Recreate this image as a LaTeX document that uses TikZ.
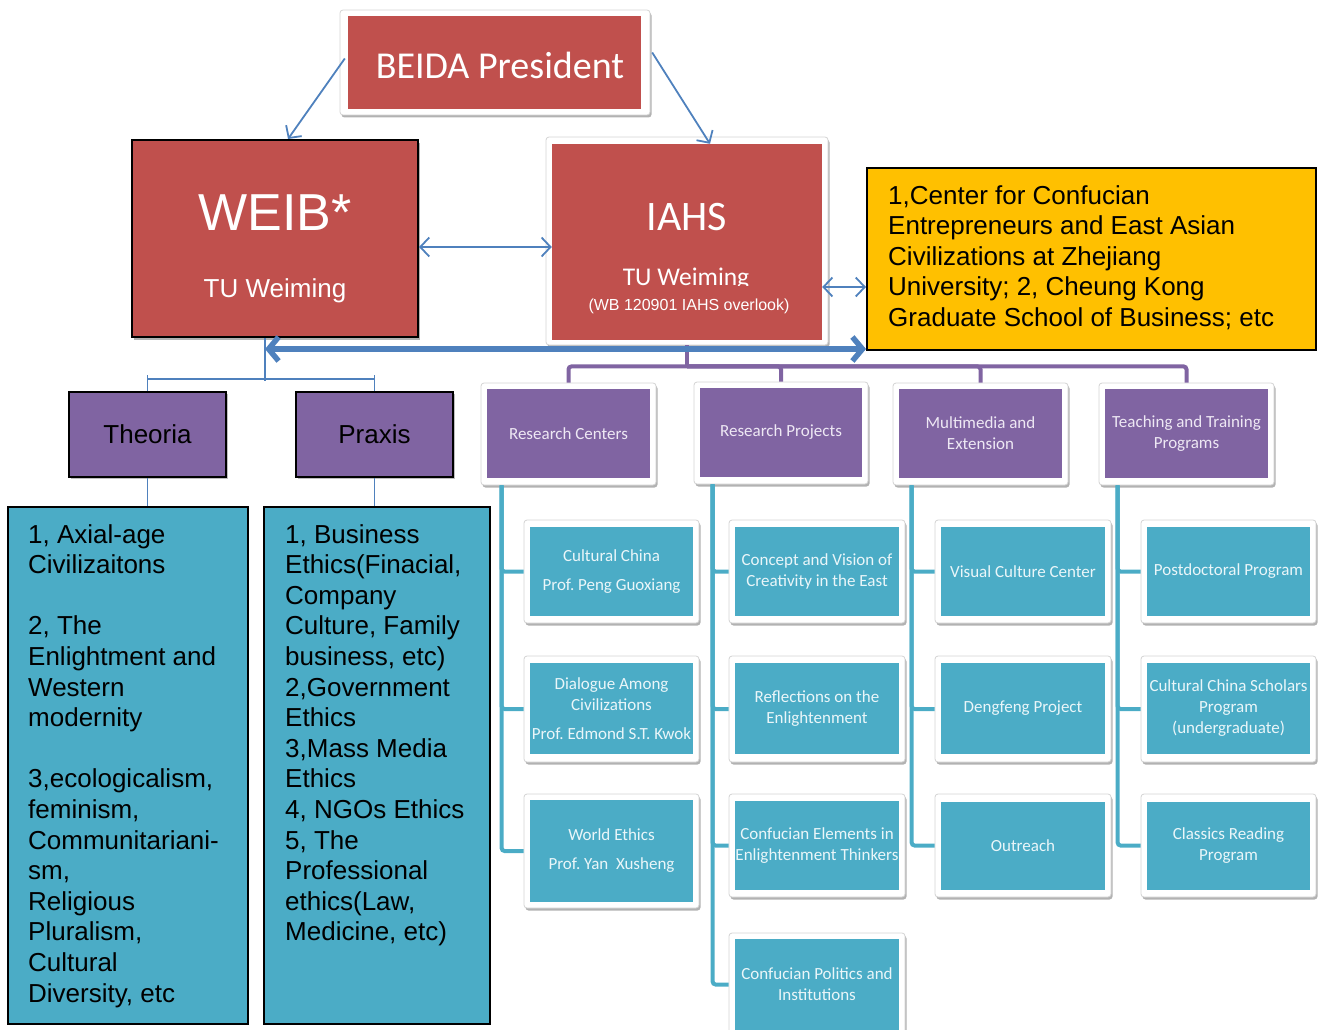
\documentclass[tikz,border=0pt]{standalone}
\usepackage{fontspec}
\setmainfont{Liberation Sans}
\newfontfamily\calib{Carlito}
\usetikzlibrary{arrows.meta,shadows,calc}
\definecolor{cred}{HTML}{C0504D}
\definecolor{cpurple}{HTML}{8064A2}
\definecolor{cteal}{HTML}{4BACC6}
\definecolor{cblue}{HTML}{4F81BD}
\definecolor{cyellow}{HTML}{FFC000}
\definecolor{cframe}{HTML}{D4D4D4}
\definecolor{ctealtxt}{HTML}{EAF6F9}
\definecolor{cpurptxt}{HTML}{EEE8F4}
\newcommand\placebox[7]{\node[#2, minimum width={#4-#3}, minimum height={#6-#5}] (#1) at ({(#3+#4)/2},{(#5+#6)/2}) {#7};}
\frenchspacing
\begin{document}
\begin{tikzpicture}[x=1pt,y=-1pt,
  wframe/.style={draw=cframe, fill=white, rounded corners=3pt, line width=0.8pt, inner sep=0pt,
     drop shadow={shadow xshift=1.5pt, shadow yshift=-2.5pt, opacity=0.3, fill=black}},
  redin/.style={fill=cred, draw=none, inner sep=0pt},
  purpin/.style={fill=cpurple, draw=none, inner sep=0pt, text=cpurptxt, align=center,
     font=\calib\fontsize{17}{21}\selectfont},
  tealin/.style={fill=cteal, draw=none, inner sep=0pt, text=ctealtxt, align=center,
     font=\calib\fontsize{17}{21}\selectfont},
  blackbox/.style={draw=black, line width=2pt, inner sep=0pt},
  bigtext/.style={font=\fontsize{26}{30.6}\selectfont, align=left, inner sep=0pt, anchor=north west},
  thinline/.style={draw=cblue, line width=1.8pt},
  biarrow/.style={thinline, {Straight Barb[length=9pt,width=19pt]}-{Straight Barb[length=9pt,width=19pt]}},
  onearrow/.style={thinline, -{Straight Barb[length=9pt,width=19pt]}},
  thickarrow/.style={draw=cblue, line width=5.5pt, {Straight Barb[length=10pt,width=24pt]}-{Straight Barb[length=10pt,width=24pt]}},
  purpline/.style={draw=cpurple, line width=4pt, rounded corners=3pt},
  tealline/.style={draw=cteal, line width=4pt, rounded corners=3pt}
]
\useasboundingbox (0,0) rectangle (1322,1030);

% ---------- top level ----------
\placebox{beidaf}{wframe}{340}{650}{10}{115}{}
\placebox{beida}{redin}{348}{641}{16}{109}{}
\node[anchor=base, inner sep=0pt, text=white, font=\calib\fontsize{38}{38}\selectfont] (beidat) at (500,79) {BEIDA President};

\placebox{weib}{redin, blackbox, drop shadow={shadow xshift=2pt, shadow yshift=-3pt, opacity=0.3, fill=black}}{132}{418}{140}{337}{}
\node[anchor=base, inner sep=0pt, text=white, font=\fontsize{52}{52}\selectfont] (weibt1) at (275,230) {WEIB*};
\node[anchor=base, inner sep=0pt, text=white, font=\fontsize{26}{26}\selectfont] (weibt2) at (275,297) {TU Weiming};

\placebox{iahsf}{wframe}{546}{828}{137}{345}{}
\placebox{iahs}{redin}{552}{822}{144}{340}{}
\node[anchor=base, inner sep=0pt, text=white, font=\calib\fontsize{42}{42}\selectfont] (iahst1) at (687,230) {IAHS};
\begin{scope}
  \clip (552,250) rectangle (822,285.5);
  \node[anchor=base, inner sep=0pt, text=white, font=\calib\fontsize{25.5}{25.5}\selectfont] (iahst2) at (686,285) {TU Weiming};
\end{scope}
\node[anchor=base, inner sep=0pt, text=white, font=\fontsize{16}{16}\selectfont] (iahst3) at (689,310) {(WB 120901 IAHS overlook)};

\placebox{yellow}{fill=cyellow, blackbox}{867}{1316}{168}{350}{}
\node[bigtext] (yellowt) at (888,185) {1,Center for Confucian\\Entrepreneurs and East Asian\\Civilizations at Zhejiang\\University; 2, Cheung Kong\\Graduate School of Business; etc};

% ---------- left branch ----------
\placebox{theoria}{fill=cpurple, blackbox, font=\fontsize{26}{26}\selectfont, drop shadow={shadow xshift=1.5pt, shadow yshift=-2pt, opacity=0.25, fill=black}}{69}{226}{392}{477}{Theoria}
\placebox{praxis}{fill=cpurple, blackbox, font=\fontsize{26}{26}\selectfont, text depth=0pt, drop shadow={shadow xshift=1.5pt, shadow yshift=-2pt, opacity=0.25, fill=black}}{296}{453}{392}{477}{Praxis}

\placebox{theobox}{fill=cteal, blackbox}{8}{248}{507}{1024}{}
\placebox{praxbox}{fill=cteal, blackbox}{264}{490}{507}{1024}{}
\node[bigtext] (theotext) at (28,524) {1, Axial-age\\Civilizaitons\\[30.6pt]2, The\\Enlightment and\\Western\\modernity\\[30.6pt]3,ecologicalism,\\feminism,\\Communitariani-\\sm,\\Religious\\Pluralism,\\Cultural\\Diversity, etc};
\node[bigtext] (praxtext) at (285,524) {1, Business\\Ethics(Finacial,\\Company\\Culture, Family\\business, etc)\\2,Government\\Ethics\\3,Mass Media\\Ethics\\4, NGOs Ethics\\5, The\\Professional\\ethics(Law,\\Medicine, etc)};

% ---------- level 2 ----------
\placebox{rcf}{wframe}{481}{656}{383}{485}{}
\placebox{rc}{purpin}{487}{650}{389}{478}{Research Centers}
\placebox{rpf}{wframe}{694}{868}{382}{484}{}
\placebox{rp}{purpin}{700}{862}{388}{477}{Research Projects}
\placebox{mmf}{wframe}{893}{1068}{383}{485}{}
\placebox{mm}{purpin}{899}{1062}{389}{478}{Multimedia and\\Extension}
\placebox{ttf}{wframe}{1099}{1274}{383}{485}{}
\placebox{tt}{purpin}{1105}{1268}{389}{478}{Teaching and Training\\Programs}

% ---------- level 3 ----------
\placebox{c11f}{wframe}{524}{699}{520}{623}{}
\placebox{c11}{tealin}{530}{693}{527}{616}{Cultural China\\[8pt]Prof. Peng Guoxiang}
\placebox{c12f}{wframe}{524}{699}{656}{762}{}
\placebox{c12}{tealin}{530}{693}{663}{754}{Dialogue Among\\Civilizations\\[8pt]Prof. Edmond S.T. Kwok}
\placebox{c13f}{wframe}{524}{699}{794}{908}{}
\placebox{c13}{tealin}{530}{693}{800}{902}{World Ethics\\[8pt]Prof. Yan\ \ Xusheng}

\placebox{c21f}{wframe}{729}{905}{520}{623}{}
\placebox{c21}{tealin}{735}{899}{527}{616}{Concept and Vision of\\Creativity in the East}
\placebox{c22f}{wframe}{729}{905}{656}{762}{}
\placebox{c22}{tealin}{735}{899}{663}{754}{Reflections on the\\Enlightenment}
\placebox{c23f}{wframe}{729}{905}{794}{897}{}
\placebox{c23}{tealin}{735}{899}{801}{890}{Confucian Elements in\\Enlightenment Thinkers}
\placebox{c24f}{wframe}{729}{905}{933}{1036}{}
\placebox{c24}{tealin}{735}{899}{939}{1030}{Confucian Politics and\\Institutions}

\placebox{c31f}{wframe}{935}{1111}{520}{623}{}
\placebox{c31}{tealin}{941}{1105}{527}{616}{Visual Culture Center}
\placebox{c32f}{wframe}{935}{1111}{656}{762}{}
\placebox{c32}{tealin}{941}{1105}{663}{754}{Dengfeng Project}
\placebox{c33f}{wframe}{935}{1111}{794}{897}{}
\placebox{c33}{tealin}{941}{1105}{802}{890}{Outreach}

\placebox{c41f}{wframe}{1141}{1316}{520}{623}{}
\placebox{c41}{tealin}{1147}{1310}{527}{616}{Postdoctoral Program}
\placebox{c42f}{wframe}{1141}{1316}{656}{762}{}
\placebox{c42}{tealin}{1147}{1310}{663}{754}{Cultural China Scholars\\Program\\(undergraduate)}
\placebox{c43f}{wframe}{1141}{1316}{794}{897}{}
\placebox{c43}{tealin}{1147}{1310}{802}{890}{Classics Reading\\Program}

% ---------- tree lines ----------
\draw[purpline] (iahsf.south) -- ++(0,21) coordinate (pj);
\draw[purpline] (pj) -| (rcf.north);
\draw[purpline] (pj) -| (rpf.north);
\draw[purpline] (pj) -| (mmf.north);
\draw[purpline] (pj) -| (ttf.north);

\foreach \f/\d/\list in {rcf/21/{c11f,c12f,c13f}, rpf/19/{c21f,c22f,c23f,c24f}, mmf/19/{c31f,c32f,c33f}, ttf/19/{c41f,c42f,c43f}}{
  \foreach \c in \list {
    \draw[tealline] ([xshift=\d]\f.south west) |- (\c.west);
  }
}

% left bracket
\draw[thinline] ([xshift=-10]weib.south) -- ++(0,43);
\draw[thinline] (theoria.north) -- ++(0,-16);
\draw[thinline] (praxis.north) -- ++(0,-16);
\draw[thinline] (theoria.north) ++(0,-12) -| (praxis.north);
\draw[thinline] (theoria.south) -- (theoria.south |- theobox.north);
\draw[thinline] (praxis.south) -- (praxis.south |- praxbox.north);

% ---------- arrows ----------
\draw[onearrow] ([xshift=-3,yshift=4]beida.west) -- ([xshift=13]weib.north);
\draw[onearrow] ([xshift=11,yshift=10]beida.east) -- ([xshift=23]iahs.north);
\draw[biarrow] ([yshift=-8.5]weib.east) -- ([yshift=-8.5]weib.east -| iahs.west);
\draw[biarrow] ([yshift=-45]iahs.east) -- ([yshift=-45]iahs.east -| yellow.west);
\coordinate (tkl) at ($([xshift=-10]weib.south)+(0,11)$);
\draw[thickarrow] (tkl) -- (tkl -| yellow.west);
\end{tikzpicture}
\end{document}
